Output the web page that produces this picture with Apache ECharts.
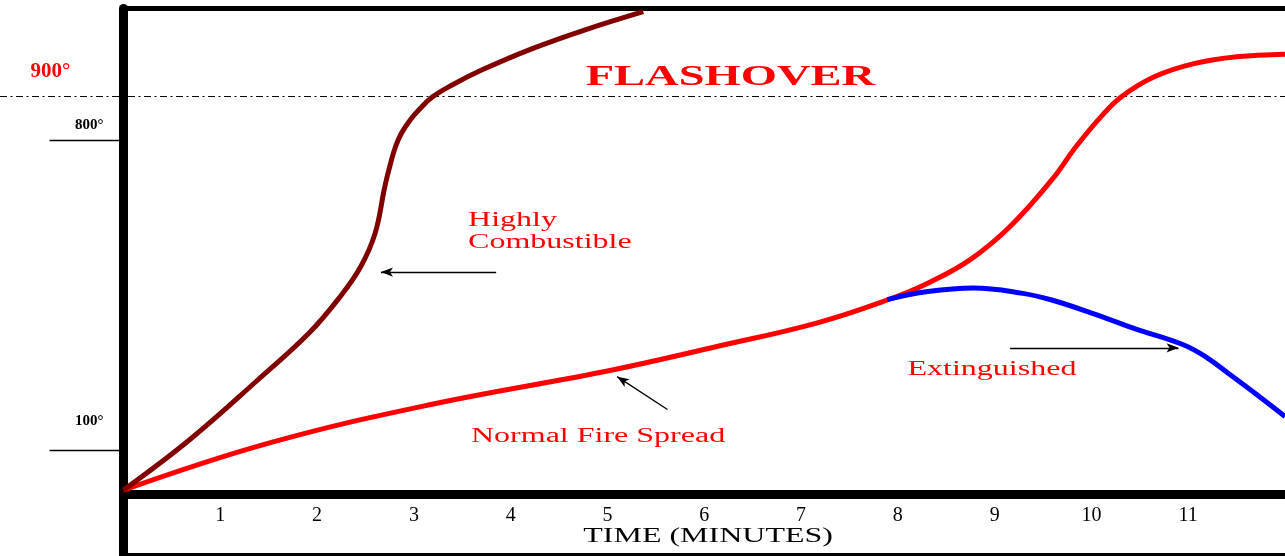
<!DOCTYPE html>
<html>
<head>
<meta charset="utf-8" />
<title>Fire growth curves</title>
<script src="https://cdn.jsdelivr.net/npm/echarts@6/dist/echarts.min.js"></script>
<style>
	html, body { margin: 0; padding: 0; background: #fff; }
	#main { width: 1285px; height: 556px; }
</style>
</head>
<body>
<div id="main"></div>
<script type="text/javascript">
	// time in minutes, temperature in degrees
	var combustibleTime = [0, 0.68, 1.39, 1.92, 2.24, 2.45, 2.60, 2.70, 2.76, 2.81, 2.87, 2.96, 3.06, 3.19, 3.40, 3.70, 4.23, 4.77, 5.37];
	var combustibleTemp = [10, 123, 259, 365, 447, 514, 590, 695, 748, 785, 815, 845, 870, 897, 925, 958, 1007, 1049, 1090];

	var normalTime = [0, 1.50, 3.15, 5.05, 6.13, 7.16, 7.89, 8.31, 8.74, 9.16, 9.59, 9.84, 10.10, 10.31, 10.65, 11.07, 11.50, 12];
	var normalTemp = [10, 116, 202, 281, 334, 387, 439, 477, 529, 605, 710, 785, 853, 898, 943, 973, 988, 994];

	var extinguishedTime = [7.89, 8.31, 8.78, 9.29, 9.59, 10.01, 10.44, 10.95, 11.20, 11.41, 11.71, 12];
	var extinguishedTemp = [440, 458, 466, 454, 439, 409, 375, 338, 308, 274, 225, 176];

	var timeTicks = [1, 2, 3, 4, 5, 6, 7, 8, 9, 10, 11];
	var tempTicks = [100, 800];
	var flashoverTemp = 900;

	function pairs(xs, ys) {
		return xs.map(function (x, i) { return [x, ys[i]]; });
	}

	var serif = 'Liberation Serif';
	var stretch = 1.6; // the original picture is widened

	// text notes, anchored in data units
	var notes = [
		{ text: 'FLASHOVER', at: [6.27, 942], size: 30, weight: 'bold', align: 'center', valign: 'middle', sx: 1.55 },
		{ text: 'Highly\nCombustible', at: [3.56, 642], size: 20, align: 'left', valign: 'top' },
		{ text: 'Normal Fire Spread', at: [3.59, 130], size: 20, align: 'left', valign: 'middle' },
		{ text: 'Extinguished', at: [8.10, 281], size: 20, align: 'left', valign: 'middle' }
	];

	// pointer arrows, from -> to in data units
	var arrows = [
		[[3.85, 502], [2.66, 502]],
		[[5.62, 192], [5.10, 266]],
		[[9.16, 331], [10.90, 331]]
	];

	var myChart = echarts.init(document.getElementById('main'));

	var option = {
		animation: false,
		backgroundColor: '#fff',
		grid: { left: 123.5, right: 0, top: 8.5, bottom: 61.5, outerBoundsMode: 'none' },
		xAxis: [{
			type: 'value',
			min: 0,
			max: 12,
			axisLine: { show: true, onZero: false, lineStyle: { color: '#000', width: 9 } },
			axisTick: { show: false },
			splitLine: { show: false },
			axisLabel: {
				customValues: timeTicks,
				margin: 11,
				color: '#000',
				fontFamily: serif,
				fontSize: 20
			}
		}, {
			type: 'value',
			position: 'top',
			min: 0,
			max: 12,
			axisLine: { show: true, onZero: false, lineStyle: { color: '#000', width: 5 } },
			axisTick: { show: false },
			axisLabel: { show: false },
			splitLine: { show: false }
		}, {
			type: 'value',
			position: 'bottom',
			offset: 61.5,
			min: 0,
			max: 12,
			axisLine: { show: true, onZero: false, lineStyle: { color: '#000', width: 6 } },
			axisTick: { show: false },
			axisLabel: { show: false },
			splitLine: { show: false }
		}],
		yAxis: {
			type: 'value',
			min: 0,
			max: 1097,
			axisLine: { show: true, onZero: false, lineStyle: { color: '#000', width: 9 } },
			axisTick: {
				show: true,
				customValues: tempTicks,
				length: 74,
				lineStyle: { color: '#000', width: 1.3 }
			},
			splitLine: { show: false },
			axisLabel: {
				customValues: tempTicks.concat([flashoverTemp]),
				margin: 20,
				verticalAlign: 'bottom',
				formatter: function (v) {
					var key = v === flashoverTemp ? 'hot' : (v === 100 ? 'low' : 'high');
					return '{' + key + '|' + v + '°}';
				},
				rich: {
					low: { fontFamily: serif, fontWeight: 'bold', fontSize: 15, color: '#000', padding: [0, 0, 22, 0] },
					high: { fontFamily: serif, fontWeight: 'bold', fontSize: 15, color: '#000', padding: [0, 0, 7, 0] },
					hot: { fontFamily: serif, fontWeight: 'bold', fontSize: 21, color: '#ff0000', padding: [0, 33, 14, 0] }
				}
			}
		},
		series: [{
			name: 'Normal Fire Spread',
			type: 'line',
			data: pairs(normalTime, normalTemp),
			smooth: 0.4,
			showSymbol: false,
			lineStyle: { color: '#ff0000', width: 5 },
			z: 3,
			markLine: {
				silent: true,
				symbol: ['none', 'arrow'],
				symbolSize: [7, 12],
				label: { show: false },
				lineStyle: { color: '#000', width: 1.3, type: 'solid' },
				data: arrows.map(function (a) {
					return [{ coord: a[0] }, { coord: a[1] }];
				})
			}
		}, {
			name: 'Extinguished',
			type: 'line',
			data: pairs(extinguishedTime, extinguishedTemp),
			smooth: 0.4,
			showSymbol: false,
			lineStyle: { color: '#0000ff', width: 5 },
			z: 4
		}, {
			name: 'Highly Combustible',
			type: 'line',
			data: pairs(combustibleTime, combustibleTemp),
			smooth: 0.4,
			showSymbol: false,
			lineStyle: { color: '#800000', width: 5 },
			z: 5
		}]
	};

	myChart.setOption(option);

	var W = myChart.getWidth(), H = myChart.getHeight();
	var origin = myChart.convertToPixel('grid', [0, 0]);
	var flashY = Math.round(myChart.convertToPixel({ yAxisIndex: 0 }, flashoverTemp)) + 0.5;
	var midX = myChart.convertToPixel({ xAxisIndex: 0 }, 6.04);

	var elements = [{
		// flashover line runs across the whole picture
		type: 'line',
		shape: { x1: 0, y1: flashY, x2: W, y2: flashY },
		style: { stroke: '#000', lineWidth: 1, lineDash: [7, 3.5, 2, 3.5] },
		z: 1
	}, {
		// left frame continues below the time axis
		type: 'line',
		shape: { x1: origin[0], y1: origin[1], x2: origin[0], y2: H },
		style: { stroke: '#000', lineWidth: 9 },
		z: 1
	}, {
		type: 'text',
		x: midX,
		y: origin[1] + 42.5,
		scaleX: stretch,
		style: {
			text: 'TIME (MINUTES)',
			fill: '#000',
			font: '20px "' + serif + '"',
			align: 'center', verticalAlign: 'middle',
			textAlign: 'center', textVerticalAlign: 'middle'
		}
	}];
	notes.forEach(function (n) {
		var p = myChart.convertToPixel('grid', n.at);
		elements.push({
			type: 'text',
			x: p[0],
			y: p[1],
			scaleX: n.sx || stretch,
			z: 10,
			style: {
				text: n.text,
				fill: '#ff0000',
				font: (n.weight || 'normal') + ' ' + n.size + 'px "' + serif + '"',
				lineHeight: 22,
				align: n.align,
				verticalAlign: n.valign,
				textAlign: n.align,
				textVerticalAlign: n.valign
			}
		});
	});
	myChart.setOption({ graphic: { elements: elements } });
</script>
</body>
</html>
